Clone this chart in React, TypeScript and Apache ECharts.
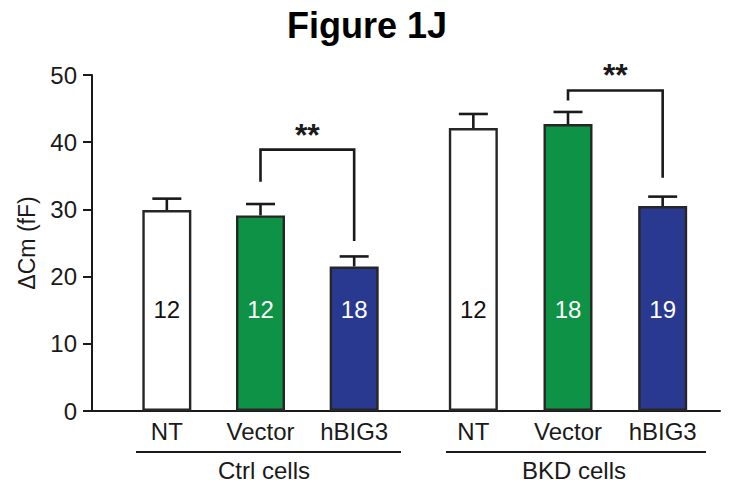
import React, { useEffect, useRef } from 'react';
import * as echarts from 'echarts';

const FONT = '"Liberation Sans", Arial, Helvetica, sans-serif';

const categories = ['NT', 'Vector', 'hBIG3'];
const groupNames = ['Ctrl cells', 'BKD cells'];

const ctrlMeans = [29.9, 29.1, 21.5];
const ctrlErrors = [1.7, 1.7, 1.5];
const ctrlN = [12, 12, 18];

const bkdMeans = [42.1, 42.7, 30.5];
const bkdErrors = [2.1, 1.8, 1.4];
const bkdN = [12, 18, 19];

// [fromIndex, toIndex, bracketTop, fromBottom, toBottom]
const ctrlSig = [1, 2, 38.9, 34.1, 25.3];
const bkdSig = [1, 2, 47.7, 46.2, 34.7];
const sigLabel = '**';

const yMin = 0;
const yMax = 50;
const yInterval = 10;

const barColors = ['#ffffff', '#0e9245', '#2a3990'];
const labelColors = ['#111111', '#ffffff', '#ffffff'];
const ink = '#1a1a1a';

function barSeries(axis: number, means: number[], ns: number[]) {
  return {
    type: 'bar',
    xAxisIndex: axis,
    yAxisIndex: axis,
    barWidth: 49,
    data: means.map((v, i) => ({
      value: v,
      itemStyle: { color: barColors[i] },
      label: { color: labelColors[i] },
    })),
    itemStyle: { borderColor: '#262626', borderWidth: 2.4 },
    label: {
      show: true,
      position: 'insideBottom',
      distance: 90,
      fontSize: 24,
      fontFamily: FONT,
      formatter: (p: any) => String(ns[p.dataIndex]),
    },
    z: 2,
  };
}

function errorSeries(axis: number, means: number[], errs: number[]) {
  return {
    type: 'custom',
    xAxisIndex: axis,
    yAxisIndex: axis,
    encode: { x: 0, y: 1 },
    data: means.map((m, i) => [i, m, errs[i]]),
    renderItem: (params: any, api: any) => {
      const x = api.value(0);
      const m = api.value(1);
      const e = api.value(2);
      const base = api.coord([x, m]);
      const top = api.coord([x, m + e]);
      const hw = 14.5;
      const st = { stroke: ink, lineWidth: 2.6 };
      return {
        type: 'group',
        children: [
          { type: 'line', shape: { x1: base[0], y1: base[1], x2: top[0], y2: top[1] }, style: st },
          { type: 'line', shape: { x1: top[0] - hw, y1: top[1], x2: top[0] + hw, y2: top[1] }, style: st },
        ],
      };
    },
    z: 3,
  };
}

function sigSeries(axis: number, sig: number[]) {
  return {
    type: 'custom',
    xAxisIndex: axis,
    yAxisIndex: axis,
    encode: { x: 0, y: 2 },
    data: [sig],
    renderItem: (params: any, api: any) => {
      const a = api.value(0);
      const b = api.value(1);
      const top = api.value(2);
      const fb = api.value(3);
      const tb = api.value(4);
      const p1 = api.coord([a, fb]);
      const p2 = api.coord([a, top]);
      const p3 = api.coord([b, top]);
      const p4 = api.coord([b, tb]);
      return {
        type: 'group',
        children: [
          {
            type: 'polyline',
            shape: { points: [p1, p2, p3, p4] },
            style: { stroke: ink, lineWidth: 2.6, fill: 'none' },
          },
          {
            type: 'text',
            x: (p2[0] + p3[0]) / 2,
            y: p2[1] - 15,
            style: {
              text: sigLabel,
              fontSize: 32,
              fontWeight: 'bold',
              fontFamily: FONT,
              fill: ink,
              align: 'center',
              verticalAlign: 'middle',
            },
          },
        ],
      };
    },
    z: 3,
  };
}

export default function App() {
  const ref = useRef<HTMLDivElement>(null);
  useEffect(() => {
    document.body.style.margin = '0';
    const chart = echarts.init(ref.current!, null, { renderer: 'svg' });
    const hiddenY = (g: number) => ({
      gridIndex: g,
      type: 'value',
      min: yMin,
      max: yMax,
      interval: yInterval,
      show: false,
    });
    const catX = (g: number) => ({
      gridIndex: g,
      type: 'category',
      data: categories,
      axisLine: { show: false },
      axisTick: { show: false },
      axisLabel: { fontSize: 24, color: ink, margin: 8, fontFamily: FONT },
    });
    const option: any = {
      animation: false,
      backgroundColor: '#ffffff',
      textStyle: { fontFamily: FONT },
      title: {
        text: 'Figure 1J',
        left: 282,
        top: 2,
        textStyle: { fontSize: 36, fontWeight: 'bold', color: '#000', fontFamily: FONT },
      },
      grid: [
        { left: 92, right: 27, top: 75, bottom: 71 },
        { left: 120, right: 346, top: 75, bottom: 71 },
        { left: 426, right: 37, top: 75, bottom: 71 },
      ],
      xAxis: [
        {
          gridIndex: 0,
          type: 'value',
          min: 0,
          max: 1,
          axisLine: { show: true, lineStyle: { color: ink, width: 2 } },
          axisTick: { show: false },
          axisLabel: { show: false },
          splitLine: { show: false },
        },
        catX(1),
        catX(2),
      ],
      yAxis: [
        {
          gridIndex: 0,
          type: 'value',
          min: yMin,
          max: yMax,
          interval: yInterval,
          axisLine: { show: true, lineStyle: { color: ink, width: 2 } },
          axisTick: { show: true, length: 9, lineStyle: { color: ink, width: 2 } },
          axisLabel: { fontSize: 24, color: ink, margin: 15, fontFamily: FONT },
          splitLine: { show: false },
          name: 'ΔCm (fF)',
          nameLocation: 'middle',
          nameGap: 54,
          nameTextStyle: { fontSize: 23, color: ink, fontFamily: FONT },
        },
        hiddenY(1),
        hiddenY(2),
      ],
      graphic: [
        { type: 'line', shape: { x1: 136, y1: 452, x2: 401, y2: 452 }, style: { stroke: ink, lineWidth: 2 } },
        { type: 'line', shape: { x1: 446, y1: 452, x2: 706, y2: 452 }, style: { stroke: ink, lineWidth: 2 } },
        {
          type: 'text',
          x: 264,
          y: 470,
          style: { text: groupNames[0], fontSize: 24, fill: ink, fontFamily: FONT, align: 'center', verticalAlign: 'middle' },
        },
        {
          type: 'text',
          x: 574,
          y: 470,
          style: { text: groupNames[1], fontSize: 24, fill: ink, fontFamily: FONT, align: 'center', verticalAlign: 'middle' },
        },
      ],
      series: [
        barSeries(1, ctrlMeans, ctrlN),
        barSeries(2, bkdMeans, bkdN),
        errorSeries(1, ctrlMeans, ctrlErrors),
        errorSeries(2, bkdMeans, bkdErrors),
        sigSeries(1, ctrlSig),
        sigSeries(2, bkdSig),
      ],
    };
    chart.setOption(option);
    return () => chart.dispose();
  }, []);
  return <div ref={ref} style={{ width: 747, height: 482 }} />;
}
